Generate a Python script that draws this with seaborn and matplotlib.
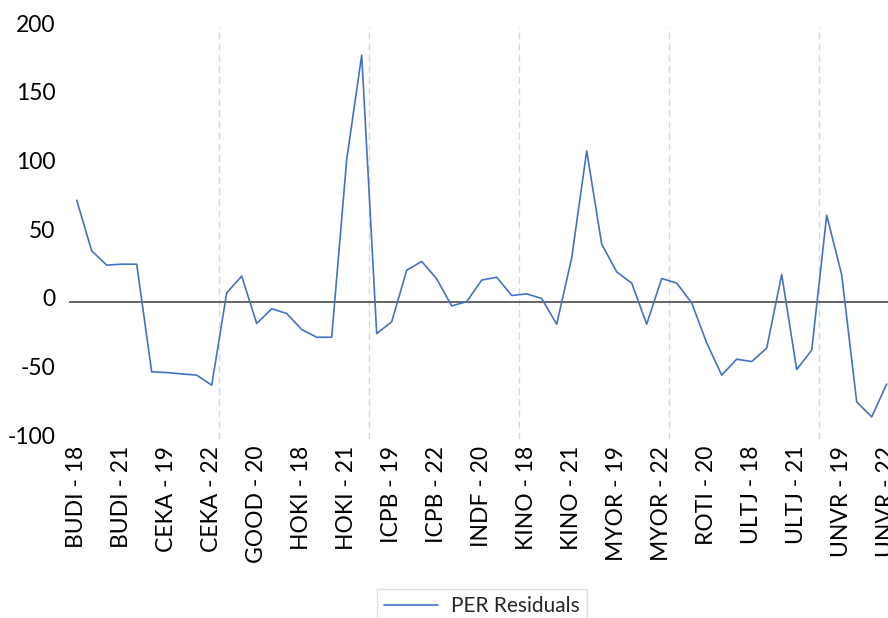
import numpy as np
import pandas as pd
import matplotlib
matplotlib.use("Agg")
import matplotlib.pyplot as plt
import matplotlib.transforms as mtransforms
import seaborn as sns

# company codes and years (labels are "CODE - YY")
companies = ["BUDI", "CEKA", "GOOD", "HOKI", "ICPB", "INDF",
             "KINO", "MYOR", "ROTI", "ULTJ", "UNVR"]
years = ["18", "19", "20", "21", "22"]

# PER residuals (5 per company)
budi = [73.9, 37.0, 26.6, 27.3, 27.3]
ceka = [-51.1, -51.6, -52.6, -53.5, -60.8]
good = [6.4, 18.6, -15.9, -5.2, -8.6]
hoki = [-20.3, -25.9, -25.9, 103.5, 179.5]
icpb = [-23.2, -14.7, 22.9, 29.3, 16.6]
indf = [-3.1, 0.0, 15.7, 17.8, 4.5]
kino = [5.7, 2.3, -16.4, 31.9, 109.8]
myor = [41.9, 21.7, 13.5, -16.4, 16.9]
roti = [13.5, -0.9, -30.0, -53.5, -41.9]
ultj = [-43.6, -33.9, 19.8, -49.4, -35.3]
unvr = [63.0, 19.5, -73.0, -83.9, -60.0]

labels = [f"{c} - {y}" for c in companies for y in years]
residuals = budi + ceka + good + hoki + icpb + indf + kino + myor + roti + ultj + unvr

df = pd.DataFrame({"obs": labels, "PER Residuals": residuals})

sns.set_style("white")
plt.rcParams["font.family"] = ["Lato", "DejaVu Sans"]
plt.rcParams["axes.unicode_minus"] = False

fig = plt.figure(figsize=(8.88, 6.18), dpi=100)
ax = fig.add_axes([69.2 / 888, 1 - 439 / 618, 825 / 888, 412 / 618])

# vertical dashed gridlines every 10 categories
for b in np.arange(9.5, 55, 10):
    ax.axvline(b, color="#d9d9d9", lw=1, ls=(0, (5, 3)), zorder=0)

ax.axhline(0, color="#595959", lw=1.3, zorder=1)

sns.lineplot(data=df, x="obs", y="PER Residuals", sort=False,
             color="#4472C4", lw=1.2, ax=ax, label="PER Residuals", legend=False)

ax.set_xlim(-0.5, len(labels) - 0.5)
ax.set_ylim(-100, 200)
ax.set_yticks(range(-100, 201, 50))
ax.set_xticks(range(0, len(labels), 3))
ax.set_xticklabels(labels[::3], rotation=90)
ax.tick_params(axis="both", length=0, labelsize=16.5, colors="black")
ax.tick_params(axis="y", pad=10)
ax.tick_params(axis="x", pad=5)
ax.set_xlabel("")
ax.set_ylabel("")
for s in ax.spines.values():
    s.set_visible(False)

# excel puts the value labels a touch higher than the gridline
shift = mtransforms.ScaledTranslation(0, 4 / 100, fig.dpi_scale_trans)
for t in ax.get_yticklabels():
    t.set_transform(t.get_transform() + shift)

h, l = ax.get_legend_handles_labels()
leg = fig.legend(h, l, loc="upper center", bbox_to_anchor=(482 / 888, 1 - 589 / 618),
                 frameon=True, fancybox=False, fontsize=15, handlelength=2.6,
                 borderpad=0.35, handletextpad=0.6, borderaxespad=0)
leg.get_frame().set_edgecolor("#d9d9d9")
leg.get_frame().set_linewidth(1)

fig.savefig("out.png", dpi=100)
